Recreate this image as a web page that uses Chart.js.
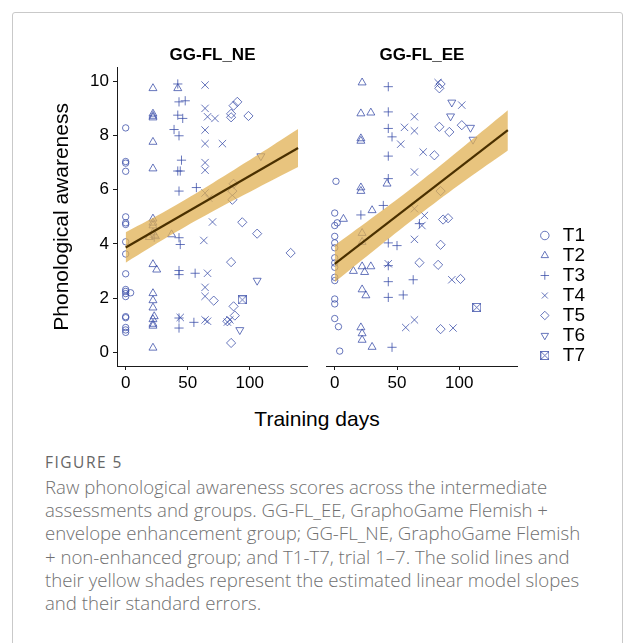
<!DOCTYPE html>
<html>
<head>
<meta charset="utf-8">
<script src="https://cdn.jsdelivr.net/npm/chart.js@4.4.1/dist/chart.umd.min.js"></script>
<style>
  body { margin: 0; background: #fff; width: 625px; height: 643px; overflow: hidden; position: relative; font-family: 'Liberation Sans', Arial, sans-serif; }
  #frame { position: absolute; left: 12px; top: 12px; width: 609px; height: 700px; border: 1px solid #c9c9c9; border-radius: 3px; }
  canvas { position: absolute; }
  #xTitle { position: absolute; left: 217px; width: 200px; top: 407px; text-align: center; font-size: 21px; line-height: 24px; color: #000; }
  #figLabel { position: absolute; left: 45px; top: 453px; font-family: 'Open Sans', sans-serif; font-size: 15.5px; font-weight: 400; letter-spacing: 1.5px; line-height: 18px; color: #666; }
  #caption { position: absolute; left: 45px; top: 475px; font-family: 'Open Sans', sans-serif; font-size: 18.6px; font-weight: 300; line-height: 23.2px; color: #707070; white-space: nowrap; }
</style>
</head>
<body>
<div id="frame"></div>
<canvas id="neChart" width="278" height="359" style="left:30px;top:37px;width:278px;height:359px"></canvas>
<canvas id="eeChart" width="269" height="359" style="left:326px;top:37px;width:269px;height:359px"></canvas>
<div id="xTitle">Training days</div>
<div id="figLabel">FIGURE 5</div>
<div id="caption">Raw phonological awareness scores across the intermediate<br>assessments and groups. GG-FL_EE, GraphoGame Flemish +<br>envelope enhancement group; GG-FL_NE, GraphoGame Flemish<br>+ non-enhanced group; and T1-T7, trial 1–7. The solid lines and<br>their yellow shades represent the estimated linear model slopes<br>and their standard errors.</div>
<script>
// ----- values -----
const dayTicks = [0, 50, 100];
const scoreTicks = [0, 2, 4, 6, 8, 10];
const trialNames = ['T1', 'T2', 'T3', 'T4', 'T5', 'T6', 'T7'];

// GG-FL_NE panel, [training day, score]
const neT1 = [[0,8.28],[0,7.04],[0,6.98],[0,6.68],[0,5.0],[0,4.78],[0,4.72],[0,4.08],[0,3.63],[0,2.9],[0,2.32],[0,2.25],[0,2.17],[4,2.2],[0,2.06],[0,1.32],[0,1.28],[0,0.92],[0,0.83],[0,0.74]];
const neT2 = [[22,9.74],[42,9.74],[22,8.8],[22,8.72],[22,8.66],[22,7.76],[22,6.78],[22,4.93],[22,4.78],[22,4.68],[22,4.42],[24,4.28],[19,4.25],[37,4.35],[22,3.25],[25,3.05],[22,2.18],[22,1.92],[22,1.65],[23,1.33],[22,1.22],[22,1.05],[22,0.98],[22,0.17]];
const neT3 = [[42,9.9],[43,9.24],[48,9.28],[42,8.75],[46,8.63],[39,8.22],[43,7.99],[45,7.09],[42,6.69],[44,6.69],[43,5.95],[57,6.08],[23,4.25],[43,4.23],[44,3.98],[43,3.02],[43,2.87],[56,2.92],[43,1.27],[55,1.11],[43,0.9]];
const neT4 = [[64,9.86],[64,9.0],[66,8.69],[72,8.63],[64,8.2],[64,7.7],[78,7.7],[64,7.0],[64,6.72],[64,5.88],[67,5.69],[70,4.81],[63,4.13],[66,2.92],[64,2.4],[64,2.07],[64,1.2],[66,1.15],[44,1.29],[82,1.12],[84,1.2]];
const neT5 = [[90,9.24],[87,9.1],[85,8.8],[85,8.67],[99,8.72],[87,6.22],[86,5.95],[86,5.63],[94,4.8],[106,4.38],[133,3.67],[85,3.33],[71,1.91],[87,1.7],[88,1.36],[82,1.15],[85,0.35]];
const neT6 = [[109,7.24],[106,2.65],[92,0.83]];
const neT7 = [[94,1.94]];

// GG-FL_EE panel
const eeT1 = [[1,6.31],[0,5.14],[2,4.78],[0,4.68],[0,4.28],[0,4.04],[0,3.86],[0,3.49],[0,3.3],[0,3.14],[0,2.77],[0,2.65],[0,1.97],[0,1.79],[0,1.25],[3,0.95],[4,0.05]];
const eeT2 = [[22,9.95],[21,8.81],[29,8.84],[21,7.89],[21,7.8],[21,6.08],[21,5.95],[30,5.24],[7,4.92],[42,6.22],[22,4.4],[22,4.07],[15,3.0],[22,3.17],[29,3.17],[24,2.96],[22,2.32],[25,2.1],[21,0.92],[22,0.7],[22,0.46],[30,0.2]];
const eeT3 = [[43,9.8],[43,8.87],[43,8.26],[46,7.95],[43,7.24],[43,6.41],[39,5.42],[21,5.07],[68,4.75],[43,4.04],[50,3.94],[43,3.2],[43,2.61],[63,2.68],[43,2.03],[55,2.12],[46,0.19]];
const eeT4 = [[83,9.95],[102,9.12],[64,8.69],[56,8.3],[64,8.17],[53,7.68],[71,7.39],[64,6.65],[64,5.3],[72,5.05],[70,4.68],[64,4.17],[43,3.27],[94,2.68],[64,1.2],[57,0.92],[95,0.9]];
const eeT5 = [[85,9.9],[84,9.74],[84,8.32],[92,8.13],[102,8.38],[80,7.27],[85,5.95],[87,4.9],[91,4.95],[85,3.97],[68,3.31],[83,3.23],[101,2.71],[85,0.86]];
const eeT6 = [[94,9.22],[93,8.71],[109,8.29],[111,7.85]];
const eeT7 = [[114,1.66]];

// model slopes and their standard error bands
const fitDays = [0, 139];
const neFit = [3.87, 7.54];
const eeFit = [3.27, 8.2];
const bandDays = [0, 35, 70, 105, 139];
const neUpper = [4.43, 5.29, 6.24, 7.24, 8.24];
const neLower = [3.31, 4.29, 5.2, 6.04, 6.84];
const eeUpper = [3.95, 5.13, 6.35, 7.65, 8.93];
const eeLower = [2.59, 3.89, 5.15, 6.35, 7.45];

// ----- styling -----
Chart.defaults.font.family = "'Liberation Sans', Arial, sans-serif";
Chart.defaults.color = '#000';
const markColor = 'rgba(52,72,165,0.75)';
const bandColor = 'rgba(224,176,83,0.75)';
const lineColor = '#4a3000';
const axisColor = '#1a1a1a';

// square with a cross in it (T7)
function boxCross() {
  const c = document.createElement('canvas');
  c.width = 9; c.height = 9;
  const g = c.getContext('2d');
  g.strokeStyle = markColor;
  g.lineWidth = 1;
  g.strokeRect(0.5, 0.5, 8, 8);
  g.beginPath();
  g.moveTo(0.5, 0.5); g.lineTo(8.5, 8.5);
  g.moveTo(8.5, 0.5); g.lineTo(0.5, 8.5);
  g.stroke();
  return c;
}

const trialStyles = [
  { pointStyle: 'circle', radius: 3.2 },
  { pointStyle: 'triangle', radius: 4.6 },
  { pointStyle: 'cross', radius: 4.6 },
  { pointStyle: 'crossRot', radius: 5.2 },
  { pointStyle: 'rectRot', radius: 4.6 },
  { pointStyle: 'triangle', radius: 4.6, rotation: 180 },
  { pointStyle: boxCross(), radius: 4.5 }
];

function toXY(xs, ys) {
  return xs.map((x, i) => ({ x: x, y: ys[i] }));
}

// no automatic edge padding: the plot area is set by the canvas
function noEdgePad(s) {
  s.paddingLeft = 0; s.paddingRight = 0; s.paddingTop = 0; s.paddingBottom = 0;
}

function fitSets(fit, upper, lower) {
  return [
    { type: 'line', label: 'fit', data: toXY(fitDays, fit), borderColor: lineColor, borderWidth: 2.2, pointRadius: 0, fill: false },
    { type: 'line', label: 'se', data: toXY(bandDays, upper), borderColor: 'rgba(0,0,0,0)', borderWidth: 0, pointRadius: 0, backgroundColor: bandColor, fill: '+1', tension: 0.4 },
    { type: 'line', label: 'se2', data: toXY(bandDays, lower), borderColor: 'rgba(0,0,0,0)', borderWidth: 0, pointRadius: 0, fill: false, tension: 0.4 }
  ];
}

function trialSets(rows) {
  return rows.map((pts, i) => ({
    type: 'scatter',
    label: trialNames[i],
    data: pts.map(p => ({ x: p[0], y: p[1] })),
    pointStyle: trialStyles[i].pointStyle,
    pointRadius: trialStyles[i].radius,
    pointRotation: trialStyles[i].rotation || 0,
    pointBorderWidth: 1,
    pointBorderColor: markColor,
    pointBackgroundColor: 'rgba(0,0,0,0)',
    borderColor: markColor,
    backgroundColor: 'rgba(0,0,0,0)',
    showLine: false
  }));
}

function xScale() {
  return {
    type: 'linear', min: -7, max: 147,
    afterBuildTicks: s => { s.ticks = dayTicks.map(v => ({ value: v })); },
    afterFit: s => { s.height = 30; noEdgePad(s); },
    ticks: { color: '#000', font: { size: 17 }, padding: 3, maxRotation: 0 },
    grid: { display: true, drawOnChartArea: false, tickLength: 4, color: axisColor },
    border: { display: true, color: axisColor, width: 1 }
  };
}

function titleOpts(text) {
  return { display: true, text: text, fullSize: false, color: '#000', font: { size: 17, weight: 'bold' }, padding: { top: 8, bottom: 2.3 } };
}

// ----- GG-FL_NE -----
new Chart(document.getElementById('neChart'), {
  type: 'scatter',
  data: { datasets: fitSets(neFit, neUpper, neLower).concat(trialSets([neT1, neT2, neT3, neT4, neT5, neT6, neT7])) },
  options: {
    responsive: false, animation: false, events: [],
    layout: { padding: 0, autoPadding: false },
    scales: {
      x: xScale(),
      y: {
        type: 'linear', min: -0.5, max: 10.5,
        afterBuildTicks: s => { s.ticks = scoreTicks.map(v => ({ value: v })); },
        afterFit: s => { s.width = 87; noEdgePad(s); },
        title: { display: true, text: 'Phonological awareness', color: '#000', font: { size: 21 }, padding: { top: 19.4, bottom: 0 } },
        ticks: { color: '#000', font: { size: 17 }, padding: 4 },
        grid: { display: true, drawOnChartArea: false, tickLength: 4, color: axisColor },
        border: { display: true, color: axisColor, width: 1 }
      }
    },
    plugins: { legend: { display: false }, tooltip: { enabled: false }, title: titleOpts('GG-FL_NE') }
  }
});

// ----- GG-FL_EE with the trial legend -----
new Chart(document.getElementById('eeChart'), {
  type: 'scatter',
  data: { datasets: fitSets(eeFit, eeUpper, eeLower).concat(trialSets([eeT1, eeT2, eeT3, eeT4, eeT5, eeT6, eeT7])) },
  options: {
    responsive: false, animation: false, events: [],
    layout: { padding: 0, autoPadding: false },
    scales: {
      x: xScale(),
      y: { type: 'linear', display: false, min: -0.5, max: 10.5 },
      gap: {
        type: 'linear', position: 'right', display: true,
        afterFit: s => { s.width = 17.5; noEdgePad(s); },
        ticks: { display: false }, grid: { display: false }, border: { display: false }
      }
    },
    plugins: {
      tooltip: { enabled: false },
      title: titleOpts('GG-FL_EE'),
      legend: {
        display: true, position: 'right', align: 'end', fullSize: false,
        labels: {
          usePointStyle: true, boxWidth: 17, boxHeight: 6, padding: 1, color: '#000', font: { size: 19 },
          filter: item => item.datasetIndex >= 3
        }
      }
    }
  }
});
</script>
</body>
</html>
